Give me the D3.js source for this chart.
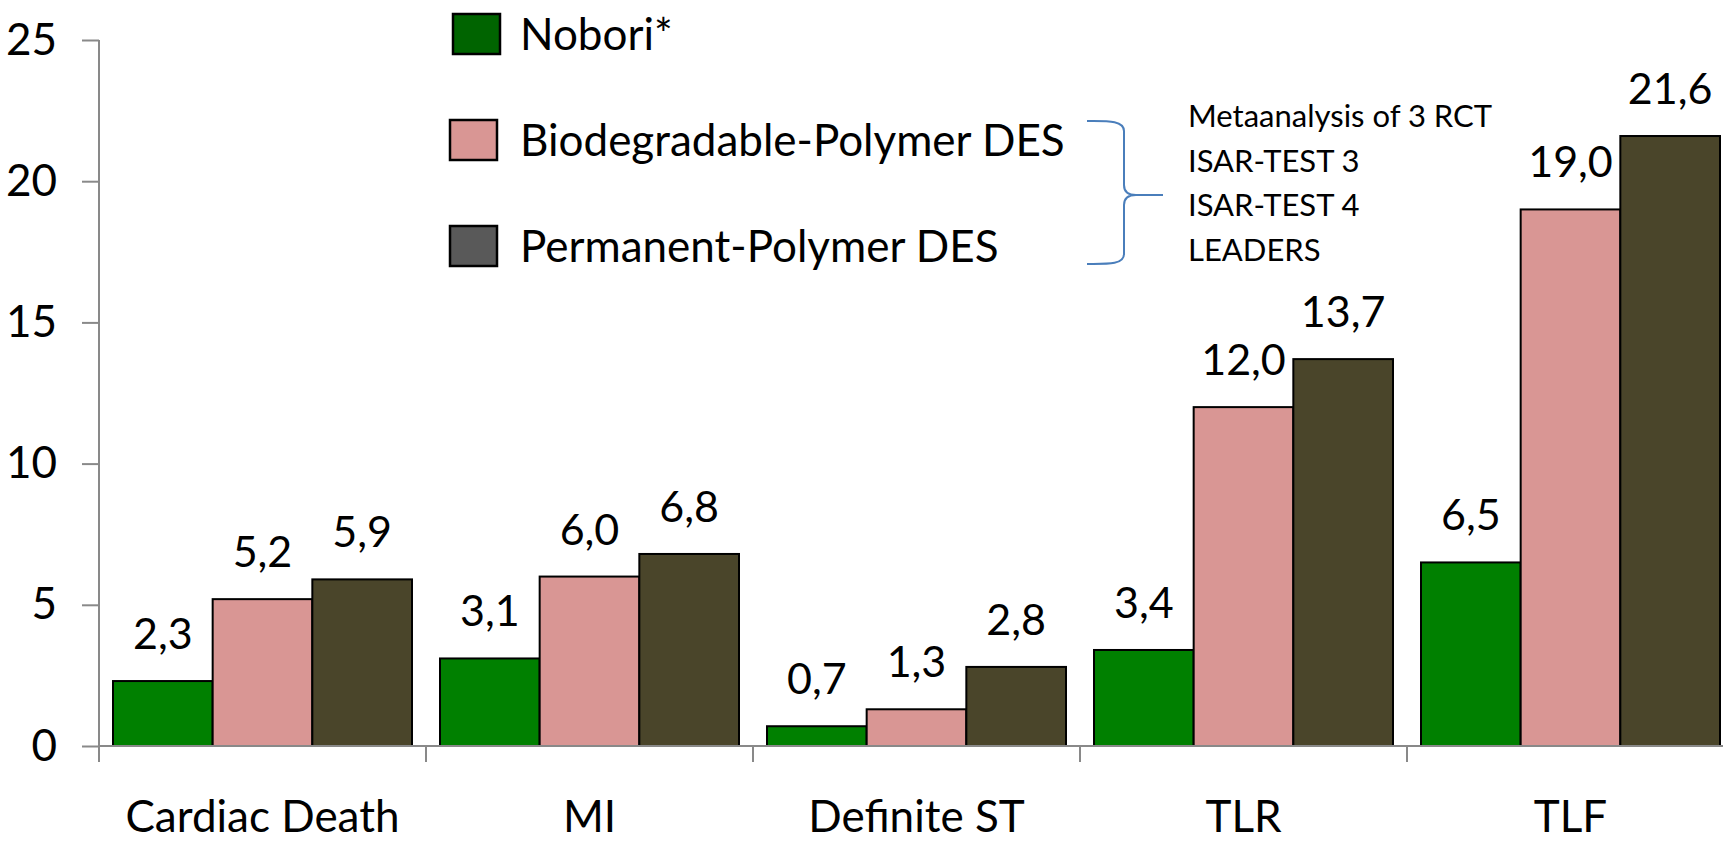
<!DOCTYPE html>
<html>
<head>
<meta charset="utf-8">
<script src="https://cdn.jsdelivr.net/npm/d3@7"></script>
<style>
  html, body { margin: 0; padding: 0; background: #fff; }
  svg { display: block; font-family: Lato, "Open Sans", sans-serif; }
</style>
</head>
<body>
<svg id="chart" width="1723" height="842"></svg>
<script>
const categories = ["Cardiac Death", "MI", "Definite ST", "TLR", "TLF"];
const seriesNames = ["Nobori*", "Biodegradable-Polymer DES", "Permanent-Polymer DES"];
const nobori = [2.3, 3.1, 0.7, 3.4, 6.5];
const biodegradable = [5.2, 6.0, 1.3, 12.0, 19.0];
const permanent = [5.9, 6.8, 2.8, 13.7, 21.6];
const yTicks = [0, 5, 10, 15, 20, 25];
const barColors = ["#008000", "#D99694", "#4A452A"];
const legendColors = ["#006400", "#D99694", "#595959"];
const studies = ["Metaanalysis of 3 RCT", "ISAR-TEST 3", "ISAR-TEST 4", "LEADERS"];

(function () {
const seriesValues = [nobori, biodegradable, permanent];
const locale = d3.formatLocale({decimal: ",", thousands: ".", grouping: [3], currency: ["", ""]});
const fmt = locale.format(".1f");

const svg = d3.select("#chart");
const axisColor = "#898989";

const x0 = d3.scaleBand().domain(categories).range([99, 1734]).padding(0);
const x1 = d3.scaleBand().domain(d3.range(seriesNames.length)).range([14, x0.bandwidth() - 14]).padding(0);
const y = d3.scaleLinear().domain([0, 25]).range([746, 40]);

// Y axis
const yAxis = svg.append("g")
  .attr("transform", `translate(${x0.range()[0]},0)`)
  .call(d3.axisLeft(y).tickValues(yTicks).tickSize(17).tickSizeOuter(0).tickPadding(25).tickFormat(d3.format("d")));
yAxis.select(".domain").remove();
yAxis.selectAll(".tick line").attr("stroke", axisColor).attr("stroke-width", 2);
yAxis.selectAll(".tick text").attr("font-size", 44).attr("fill", "#000").attr("font-family", "Lato");
svg.append("line")
  .attr("x1", x0.range()[0]).attr("x2", x0.range()[0])
  .attr("y1", y(25)).attr("y2", y(0) + 16)
  .attr("stroke", axisColor).attr("stroke-width", 2);

// Bars
const groups = svg.selectAll("g.cat").data(categories).join("g")
  .attr("class", "cat")
  .attr("transform", d => `translate(${x0(d)},0)`);

groups.each(function(cat, ci) {
  const g = d3.select(this);
  seriesValues.forEach((vals, si) => {
    const v = vals[ci];
    g.append("rect")
      .attr("x", x1(si))
      .attr("y", y(v))
      .attr("width", x1.bandwidth())
      .attr("height", y(0) - y(v))
      .attr("fill", barColors[si])
      .attr("stroke", "#000")
      .attr("stroke-width", 2);
    g.append("text")
      .attr("x", x1(si) + x1.bandwidth() / 2)
      .attr("y", y(v) - 32)
      .attr("text-anchor", "middle")
      .attr("font-size", 43)
      .attr("fill", "#000")
      .text(fmt(v));
  });
});

// X axis line and boundary ticks
svg.append("line")
  .attr("x1", x0.range()[0]).attr("x2", 1723)
  .attr("y1", y(0)).attr("y2", y(0))
  .attr("stroke", axisColor).attr("stroke-width", 2);
const boundaries = categories.map(c => x0(c)).concat([x0(categories[categories.length - 1]) + x0.bandwidth()]);
svg.selectAll("line.bt").data(boundaries).join("line")
  .attr("class", "bt")
  .attr("x1", d => d).attr("x2", d => d)
  .attr("y1", y(0)).attr("y2", y(0) + 16)
  .attr("stroke", axisColor).attr("stroke-width", 2);
svg.selectAll("text.catlabel").data(categories).join("text")
  .attr("class", "catlabel")
  .attr("x", d => x0(d) + x0.bandwidth() / 2)
  .attr("y", y(0) + 86)
  .attr("text-anchor", "middle")
  .attr("font-size", 44)
  .attr("fill", "#000")
  .text(d => d);

// Legend
const legendY = [14, 120, 226];
const legendX = [453, 450, 450];
seriesNames.forEach((name, i) => {
  svg.append("rect")
    .attr("x", legendX[i]).attr("y", legendY[i])
    .attr("width", 47).attr("height", 40)
    .attr("fill", legendColors[i])
    .attr("stroke", "#000").attr("stroke-width", 2.5);
  svg.append("text")
    .attr("x", 520).attr("y", legendY[i] + 36)
    .attr("font-size", 44)
    .attr("fill", "#000")
    .text(name);
});

// Brace
const bx = 1087, bTop = 121, bBot = 264, bMid = 195, vx = 1124;
const brace = `M${bx},${bTop} C${bx + 20},${bTop} ${vx},${bTop - 1} ${vx},${bTop + 10}
  L${vx},${bMid - 10} C${vx},${bMid - 2} ${vx + 6},${bMid} ${vx + 12},${bMid} L${vx + 39},${bMid}
  M${vx + 12},${bMid} C${vx + 6},${bMid} ${vx},${bMid + 2} ${vx},${bMid + 10}
  L${vx},${bBot - 10} C${vx},${bBot + 1} ${bx + 20},${bBot} ${bx},${bBot}`;
svg.append("path").attr("d", brace).attr("fill", "none")
  .attr("stroke", "#4A7EBB").attr("stroke-width", 2);

svg.selectAll("text.study").data(studies).join("text")
  .attr("class", "study")
  .attr("x", 1188)
  .attr("y", (d, i) => 127 + i * 44.7)
  .attr("font-size", 31)
  .attr("fill", "#000")
  .text(d => d);
})();
</script>
</body>
</html>
